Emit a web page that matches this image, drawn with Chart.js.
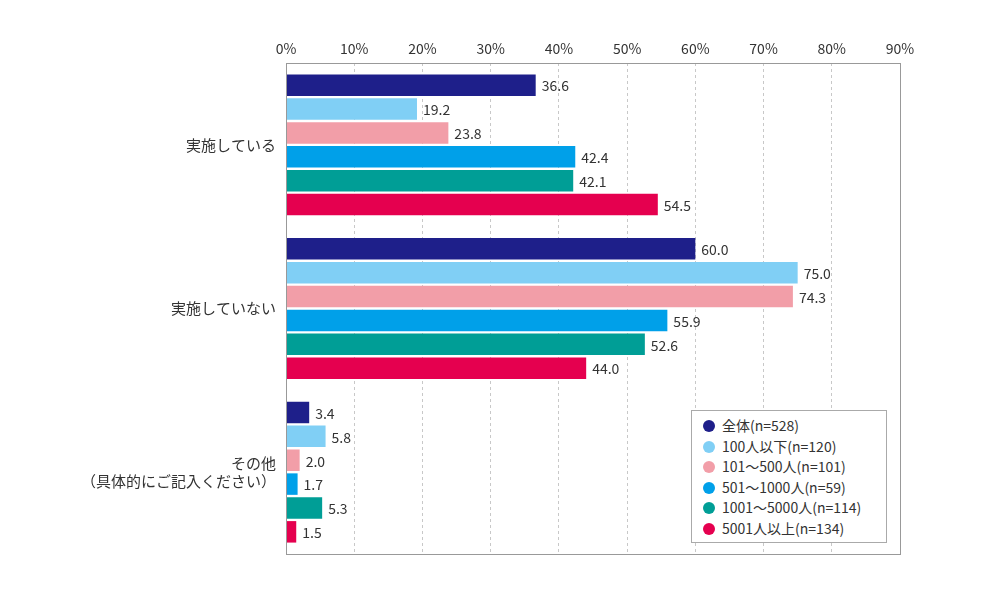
<!DOCTYPE html>
<html><head><meta charset="utf-8">
<script src="https://cdn.jsdelivr.net/npm/chart.js@4.4.1/dist/chart.umd.min.js"></script>
<style>
html,body{margin:0;padding:0;background:#fff;}
#wrap{position:relative;width:1000px;height:600px;}
#legend{position:absolute;left:691px;top:410px;width:196px;height:133px;box-sizing:border-box;border:1px solid #aaa;background:#fff;padding:4px 0 0 11px;font-family:"Noto Sans CJK JP","Noto Sans",sans-serif;font-size:14px;color:#333;}
#legend div{height:20.6px;line-height:20.6px;white-space:nowrap;}
#legend span.dot{display:inline-block;width:12px;height:12px;border-radius:50%;margin-right:7px;vertical-align:-1px;}
</style></head>
<body><div id="wrap"><canvas id="c" width="1000" height="600"></canvas><div id="legend"></div></div>
<script>
const categories = [["実施している"], ["実施していない"], ["その他", "（具体的にご記入ください）"]];
const seriesNames = ["全体(n=528)", "100人以下(n=120)", "101～500人(n=101)", "501～1000人(n=59)", "1001～5000人(n=114)", "5001人以上(n=134)"];
const seriesColors = ["#1e1f8a", "#80cff5", "#f29ea8", "#00a0e9", "#009e96", "#e5004f"];
const vAll = [36.6, 60.0, 3.4];
const v100 = [19.2, 75.0, 5.8];
const v500 = [23.8, 74.3, 2.0];
const v1000 = [42.4, 55.9, 1.7];
const v5000 = [42.1, 52.6, 5.3];
const v5001 = [54.5, 44.0, 1.5];
const seriesValues = [vAll, v100, v500, v1000, v5000, v5001];
const xTicks = [0,10,20,30,40,50,60,70,80,90];

const FONT = '"Noto Sans CJK JP","Noto Sans",sans-serif';

const frame = {
  id:'frame',
  afterDatasetsDraw(chart){
    const {ctx, chartArea:a} = chart;
    ctx.save();
    ctx.strokeStyle = '#999';
    ctx.lineWidth = 1;
    ctx.strokeRect(Math.round(a.left)+0.5, Math.round(a.top)+0.5, Math.round(a.right-a.left), Math.round(a.bottom-a.top));
    ctx.restore();
  }
};
const labels = {
  id:'vlabels',
  afterDatasetsDraw(chart){
    const ctx = chart.ctx;
    ctx.save();
    ctx.font = '14px ' + FONT;
    ctx.fillStyle = '#333';
    ctx.textAlign = 'left';
    ctx.textBaseline = 'middle';
    chart.data.datasets.forEach((ds, i) => {
      chart.getDatasetMeta(i).data.forEach((bar, j) => {
        ctx.fillText(ds.data[j].toFixed(1), bar.x + 6, bar.y + 1);
      });
    });
    ctx.restore();
  }
};

new Chart(document.getElementById('c'), {
  type:'bar',
  data:{
    labels: categories,
    datasets: seriesNames.map((n,i)=>({label:n, data:seriesValues[i], backgroundColor:seriesColors[i], borderWidth:0, categoryPercentage:0.875, barPercentage:0.9}))
  },
  options:{
    indexAxis:'y',
    responsive:false,
    animation:false,
    layout:{padding:{left:0,top:0,right:100,bottom:46}},
    plugins:{legend:{display:false}, tooltip:{enabled:false}},
    scales:{
      x:{
        position:'top', min:0, max:90,
        afterFit(s){ s.height = 63; },
        afterBuildTicks(s){ s.ticks = xTicks.map(v=>({value:v})); },
        ticks:{callback:v=>v+'%', color:'#333', font:{family:FONT, size:14}, padding:6, maxRotation:0},
        grid:{color:'#c8c8c8', drawTicks:false, tickLength:0},
        border:{display:false, dash:[3,3]}
      },
      y:{
        afterFit(s){ s.width = 286; },
        ticks:{color:'#333', font:{family:FONT, size:15, lineHeight:1.2}, padding:10, crossAlign:'near'},
        grid:{display:false, drawTicks:false},
        border:{display:false}
      }
    }
  },
  plugins:[frame, labels]
});

const lg = document.getElementById('legend');
seriesNames.forEach((n,i)=>{
  const d = document.createElement('div');
  d.innerHTML = '<span class="dot" style="background:'+seriesColors[i]+'"></span>' + n;
  lg.appendChild(d);
});
</script>
</body></html>
